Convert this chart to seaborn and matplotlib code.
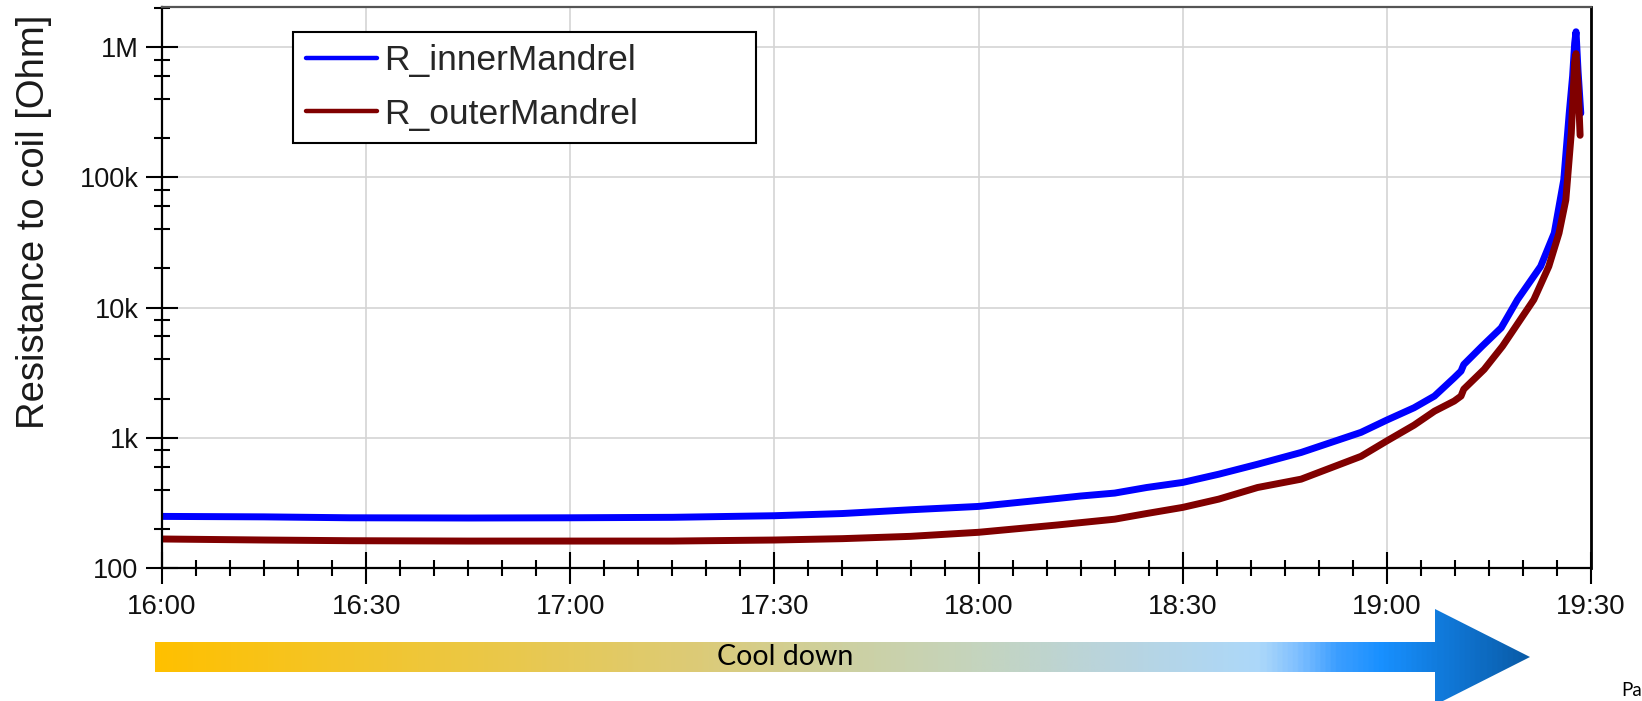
import numpy as np
import pandas as pd
import matplotlib
matplotlib.use("Agg")
import matplotlib.pyplot as plt
import matplotlib.dates as mdates
from matplotlib.patches import Polygon
from matplotlib.colors import LinearSegmentedColormap
from matplotlib.ticker import FixedLocator, FixedFormatter, NullFormatter
import seaborn as sns

# ---- measured data -------------------------------------------------------
DAY = "2019-01-01 "

inner_times = ["16:00:00", "16:15:00", "16:27:36", "16:45:00", "17:00:00", "17:15:00",
               "17:30:00", "17:40:00", "17:50:00", "18:00:00", "18:11:36", "18:15:00",
               "18:20:00", "18:24:42", "18:30:00", "18:35:18", "18:41:00", "18:47:24",
               "18:56:12", "19:00:00", "19:04:00", "19:07:00", "19:09:54", "19:10:54",
               "19:11:18", "19:14:00", "19:16:48", "19:19:12", "19:22:36", "19:24:36",
               "19:25:18", "19:26:00", "19:26:48", "19:27:18", "19:27:36", "19:27:48",
               "19:28:06", "19:28:30"]
inner_ohm = [249, 247, 243, 242, 243, 245,
             252, 262, 280, 297, 342, 357,
             376, 415, 454, 525, 626, 771,
             1100, 1368, 1700, 2090, 2890, 3250,
             3650, 5050, 6980, 11500, 20700, 37300,
             59700, 95700, 310000, 600000, 1070000, 1310000,
             650000, 310000]

outer_times = ["16:00:00", "16:15:00", "16:27:36", "16:45:00", "17:00:00", "17:15:00",
               "17:30:00", "17:40:00", "17:50:00", "18:00:00", "18:11:36", "18:20:00",
               "18:24:42", "18:30:00", "18:35:18", "18:41:00", "18:47:24", "18:56:12",
               "19:00:00", "19:04:00", "19:07:00", "19:09:54", "19:10:54", "19:11:18",
               "19:14:18", "19:17:00", "19:21:36", "19:23:48", "19:25:18", "19:26:18",
               "19:26:48", "19:27:06", "19:27:36", "19:27:48", "19:28:06", "19:28:24"]
outer_ohm = [167, 164, 162, 161, 161, 161,
             164, 168, 175, 188, 214, 237,
             262, 292, 338, 415, 481, 720,
             946, 1250, 1600, 1914, 2090, 2360,
             3350, 5050, 11500, 20700, 37300, 67000,
             140000, 218000, 772000, 890000, 500000, 210000]

series_names = ["R_innerMandrel", "R_outerMandrel"]
series_colors = ["#0000FF", "#800000"]

y_tick_values = [100, 1e3, 1e4, 1e5, 1e6]
y_tick_labels = ["100", "1k", "10k", "100k", "1M"]
y_limits = (100, 2.03e6)
x_limits = ("16:00", "19:30")
y_label = "Resistance to coil [Ohm]"
arrow_label = "Cool down"
footer_text = "Pa"

# ---- assemble a long table ----------------------------------------------
frames = []
for name, times, vals in [(series_names[0], inner_times, inner_ohm),
                          (series_names[1], outer_times, outer_ohm)]:
    frames.append(pd.DataFrame({
        "time": pd.to_datetime([DAY + t for t in times]),
        "ohm": vals,
        "series": name,
    }))
df = pd.concat(frames, ignore_index=True)

# ---- figure --------------------------------------------------------------
sns.set_style("white")
plt.rcParams["font.family"] = ["Liberation Sans", "DejaVu Sans"]

W, H = 1642, 701
fig = plt.figure(figsize=(W / 100, H / 100), dpi=100)
fig.patch.set_facecolor("white")

ax = fig.add_axes([162 / W, 1 - 568 / H, (1591 - 162) / W, (568 - 7) / H], zorder=2)

sns.lineplot(data=df, x="time", y="ohm", hue="series", hue_order=series_names,
             palette=series_colors, linewidth=5, sort=False, estimator=None,
             ax=ax, legend=True, solid_capstyle="round", solid_joinstyle="round")

ax.set_yscale("log")
ax.set_ylim(*y_limits)
ax.set_xlim(pd.to_datetime(DAY + x_limits[0]), pd.to_datetime(DAY + x_limits[1]))

ax.yaxis.set_major_locator(FixedLocator(y_tick_values))
ax.yaxis.set_major_formatter(FixedFormatter(y_tick_labels))
minor_y = [m * 10 ** e for e in range(2, 7) for m in (2, 4, 6, 8) if m * 10 ** e < y_limits[1]]
ax.yaxis.set_minor_locator(FixedLocator(minor_y))
ax.yaxis.set_minor_formatter(NullFormatter())

ax.xaxis.set_major_locator(mdates.MinuteLocator(byminute=[0, 30]))
ax.xaxis.set_minor_locator(mdates.MinuteLocator(byminute=range(0, 60, 5)))
ax.xaxis.set_major_formatter(mdates.DateFormatter("%H:%M"))

ax.set_xlabel("")
ax.set_ylabel(y_label, fontsize=27.5, color="#1a1a1a")
ax.yaxis.set_label_coords(-0.077, 0.617)

ax.grid(True, which="major", color="#d4d4d4", linewidth=1.2)
ax.tick_params(axis="both", which="both", bottom=True, left=True, top=False, right=False)
ax.tick_params(axis="both", which="major", direction="inout", length=23, width=1.5,
               color="black", labelcolor="#111111")
ax.tick_params(axis="both", which="minor", direction="inout", length=11.5, width=1.5,
               color="black")
ax.tick_params(axis="x", which="major", labelsize=20, pad=7)
ax.tick_params(axis="y", which="major", labelsize=19.5, pad=5.5)

for side in ("left", "bottom"):
    ax.spines[side].set_color("black")
    ax.spines[side].set_linewidth(1.6)
ax.spines["top"].set_color("#555555")
ax.spines["top"].set_linewidth(1.6)
ax.spines["right"].set_color("black")
ax.spines["right"].set_linewidth(2.0)

handles, labels = ax.get_legend_handles_labels()
for h in handles:
    h.set_linewidth(3.2)
leg = ax.legend(handles, labels, loc="upper left",
                bbox_to_anchor=(131 / 1429, 1 - 24.7 / 561, 463 / 1429, 0),
                mode="expand", borderaxespad=0, fontsize=25.5, frameon=True,
                fancybox=False, shadow=False, framealpha=1, edgecolor="black",
                handlelength=2.0, handletextpad=0.2, borderpad=0.36,
                labelspacing=0.57)
leg.get_frame().set_linewidth(1.5)

# ---- gradient "Cool down" arrow beneath the axis ------------------------
ov = fig.add_axes([0, 0, 1, 1], zorder=1)
ov.set_xlim(0, W)
ov.set_ylim(H, 0)
ov.axis("off")

stops_px = [155, 300, 500, 700, 840, 970, 1105, 1262, 1300, 1340, 1385, 1450, 1530]
stops_col = ["#FFC000", "#F6C420", "#EAC84A", "#DCCB78", "#CDD0A0", "#C5D4BC",
             "#BAD4DC", "#ACD8FA", "#80C0FF", "#3C9EFF", "#1890FF", "#1078D8", "#0A5CA8"]
pos = [(p - stops_px[0]) / (stops_px[-1] - stops_px[0]) for p in stops_px]
cmap = LinearSegmentedColormap.from_list("cooldown", list(zip(pos, stops_col)))

arrow_pts = [(155, 642), (1435, 642), (1435, 609), (1530, 657),
             (1435, 705), (1435, 672), (155, 672)]
arrow = Polygon(arrow_pts, closed=True, facecolor="none", edgecolor="none")
ov.add_patch(arrow)
grad = np.linspace(0, 1, 800).reshape(1, -1)
img = ov.imshow(grad, cmap=cmap, aspect="auto", extent=(155, 1530, 705, 609),
                interpolation="bilinear")
img.set_clip_path(arrow)
ov.set_xlim(0, W)
ov.set_ylim(H, 0)

ov.text(785, 657, arrow_label, ha="center", va="center", fontsize=20.5,
        family=["Lato", "DejaVu Sans"], color="black")
ov.text(1621, 696, footer_text, ha="left", va="baseline", fontsize=13.5,
        family=["Lato", "DejaVu Sans"], color="black")

fig.savefig("out.png", dpi=100, facecolor="white")
